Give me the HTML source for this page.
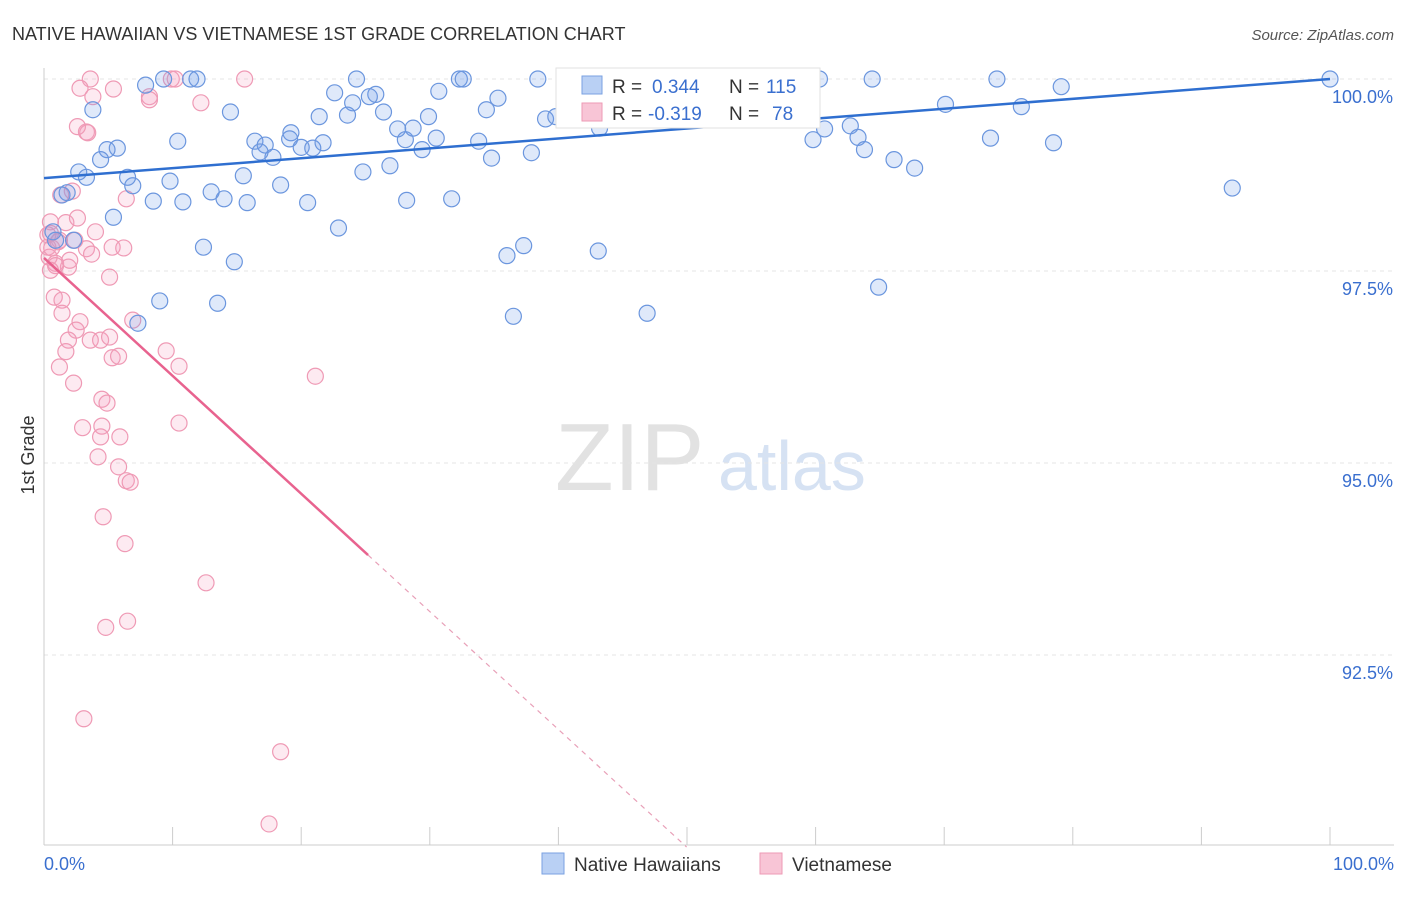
<!DOCTYPE html>
<html><head><meta charset="utf-8"><style>
body{margin:0;background:#fff;}
svg text{font-family:"Liberation Sans",sans-serif;}
</style></head><body>
<svg id="chart" width="1406" height="892" xmlns="http://www.w3.org/2000/svg">
<text x="12" y="40" font-size="18" fill="#333">NATIVE HAWAIIAN VS VIETNAMESE 1ST GRADE CORRELATION CHART</text>
<text x="1394" y="40" font-size="15" fill="#555" font-style="italic" text-anchor="end">Source: ZipAtlas.com</text>
<text x="34" y="455" font-size="18" fill="#333" text-anchor="middle" transform="rotate(-90 34 455)">1st Grade</text>
<g><text x="555" y="490" font-size="96" fill="#e2e2e2" font-family="Liberation Serif,serif">ZIP</text><text x="718" y="490" font-size="70" fill="#d6e2f3">atlas</text></g>
<g id="grid"></g><g id="marks"></g>
<g>
<rect x="556" y="68" width="264" height="60" fill="#fff" stroke="#e2e2e2"/>
<rect x="582" y="76" width="20" height="18" fill="#b9d0f4" stroke="#7aa1e2"/>
<text x="612" y="93" font-size="19" fill="#333">R =</text>
<text x="652" y="93" font-size="19" fill="#3a6fcf">0.344</text>
<text x="729" y="93" font-size="19" fill="#333">N =</text>
<text x="766" y="93" font-size="19" fill="#3a6fcf">115</text>
<rect x="582" y="103" width="20" height="18" fill="#f8c5d6" stroke="#ee9ab5"/>
<text x="612" y="120" font-size="19" fill="#333">R =</text>
<text x="648" y="120" font-size="19" fill="#3a6fcf">-0.319</text>
<text x="729" y="120" font-size="19" fill="#333">N =</text>
<text x="772" y="120" font-size="19" fill="#3a6fcf">78</text>
</g>
<g>
<rect x="542" y="853" width="22" height="21" fill="#b9d0f4" stroke="#7aa1e2"/>
<text x="574" y="871" font-size="19" fill="#333">Native Hawaiians</text>
<rect x="760" y="853" width="22" height="21" fill="#f8c5d6" stroke="#ee9ab5"/>
<text x="792" y="871" font-size="19" fill="#333">Vietnamese</text>
</g>
</svg>
<script>
const yTicks=[100,97.5,95,92.5];
const yTickLabels=["100.0%","97.5%","95.0%","92.5%"];
const blueX=[7.9,9.3,11.4,11.9,14.5,10.4,16.4,17.2,17.8,16.8,19.2,19.1,20.0,20.9,21.7,21.4,22.6,24.0,23.6,24.3,25.8,25.3,26.4,27.5,28.1,28.7,29.9,29.4,30.5,30.7,32.3,32.6,34.4,35.3,33.8,34.8,37.9,38.4,39.0,39.8,41.5,43.2,43.5,45.6,47.5,49.7,51.0,54.3,55.4,58.8,59.4,60.3,60.7,59.8,62.7,63.3,63.8,64.4,66.1,67.7,70.1,74.1,73.6,76.0,78.5,79.1,92.4,100,64.9,46.9,43.1,37.3,36.0,36.5,31.7,28.2,24.8,26.9,22.9,20.5,18.4,15.5,15.8,14.0,13.0,10.8,9.8,8.5,6.9,6.5,5.7,4.9,4.4,3.8,3.3,2.7,1.4,1.8,0.7,0.9,2.3,5.4,12.4,14.8,9.0,13.5,7.3];
const blueY=[99.92,100,100,100,99.57,99.19,99.19,99.14,98.98,99.05,99.30,99.22,99.11,99.10,99.17,99.51,99.82,99.69,99.53,100,99.80,99.77,99.57,99.35,99.21,99.36,99.51,99.08,99.23,99.84,100,100,99.60,99.75,99.19,98.97,99.04,100,99.48,99.51,100,99.36,100,100,100,100,100,100,100,100,100,100,99.35,99.21,99.39,99.24,99.08,100,98.95,98.84,99.67,100,99.23,99.64,99.17,99.90,98.58,100,97.29,96.95,97.76,97.83,97.70,96.91,98.44,98.42,98.79,98.87,98.06,98.39,98.62,98.74,98.39,98.44,98.53,98.40,98.67,98.41,98.61,98.72,99.10,99.08,98.95,99.60,98.72,98.79,98.49,98.52,98.01,97.90,97.90,98.20,97.81,97.62,97.11,97.08,96.82];
const pinkX=[3.6,2.8,5.4,3.8,8.2,8.2,9.9,10.2,15.6,12.2,3.3,3.4,2.6,2.2,1.3,6.4,0.5,1.7,2.6,0.5,4.0,1.2,2.4,0.3,0.4,0.9,1.9,3.3,3.7,5.3,6.2,0.9,5.1,0.8,1.4,1.4,2.8,2.5,6.9,3.6,1.9,4.4,5.1,1.7,5.3,5.8,9.5,10.5,1.2,2.3,4.5,4.9,21.1,3.0,4.5,4.4,5.9,10.5,4.2,5.8,6.4,6.7,4.6,6.3,12.6,4.8,6.5,3.1,18.4,17.5,0.5,0.3,0.6,1.1,2.0];
const pinkY=[100,99.88,99.87,99.77,99.77,99.73,100,100,100,99.69,99.31,99.30,99.38,98.54,98.49,98.44,98.14,98.13,98.19,97.99,98.01,97.90,97.90,97.81,97.68,97.60,97.55,97.79,97.72,97.81,97.80,97.57,97.42,97.16,97.12,96.95,96.84,96.73,96.86,96.60,96.60,96.60,96.64,96.45,96.37,96.39,96.46,96.26,96.25,96.04,95.83,95.78,96.13,95.46,95.48,95.34,95.34,95.52,95.08,94.95,94.77,94.75,94.30,93.95,93.44,92.86,92.94,91.67,91.24,90.30,97.51,97.97,97.80,97.88,97.64];
const blueTrend=[98.71,100];
const pinkTrend=[97.67,-0.1535];
const NS="http://www.w3.org/2000/svg";
const X=v=>44+v*12.86, Y=v=>79+(100-v)*76.8;
const grid=document.getElementById('grid'), marks=document.getElementById('marks');
function mk(tag,attrs,parent){const e=document.createElementNS(NS,tag);for(const k in attrs)e.setAttribute(k,attrs[k]);parent.appendChild(e);return e;}
yTicks.forEach((t,i)=>{
 const l=mk('line',{x1:44,x2:1394,y1:Y(t),y2:Y(t),stroke:'#e4e4e4','stroke-dasharray':'4,4'},grid);
 
 
 const tx=mk('text',{x:1393,y:Y(t)+24,'font-size':18,fill:'#3a6fcf','text-anchor':'end'},grid);
 tx.textContent=yTickLabels[i];
 
 
});
mk('line',{x1:44,x2:44,y1:68,y2:845,stroke:'#ccc'},grid);
mk('line',{x1:44,x2:1394,y1:845,y2:845,stroke:'#ccc'},grid);
for(let i=0;i<=10;i++){const t=mk('line',{x1:X(i*10),x2:X(i*10),y1:827,y2:845,stroke:'#ccc'},grid);
 
 }
const x0=mk('text',{x:44,y:870,'font-size':18,fill:'#3a6fcf'},grid);x0.textContent='0.0%';


const x1=mk('text',{x:1394,y:870,'font-size':18,fill:'#3a6fcf','text-anchor':'end'},grid);x1.textContent='100.0%';


pinkX.forEach((v,i)=>{const c=mk('circle',{cx:X(v),cy:Y(pinkY[i]),r:8,fill:'rgba(244,160,190,0.22)',stroke:'#ef9ab5','stroke-width':1.2},marks);
 
 });
blueX.forEach((v,i)=>{const c=mk('circle',{cx:X(v),cy:Y(blueY[i]),r:8,fill:'rgba(110,155,230,0.22)',stroke:'#6b96de','stroke-width':1.2},marks);
 
 });
const bl=mk('line',{x1:X(0),y1:Y(blueTrend[0]),x2:X(100),y2:Y(blueTrend[1]),stroke:'#2f6fd0','stroke-width':2.5},marks);


const pEnd=(90-pinkTrend[0])/pinkTrend[1];
const ps=mk('line',{x1:X(0),y1:Y(pinkTrend[0]),x2:X(25.2),y2:Y(pinkTrend[0]+pinkTrend[1]*25.2),stroke:'#e8638f','stroke-width':2.5},marks);


const pd=mk('line',{x1:X(25.2),y1:Y(pinkTrend[0]+pinkTrend[1]*25.2),x2:X(pEnd),y2:Y(90),stroke:'#e8a0b8','stroke-width':1.2,'stroke-dasharray':'5,5'},marks);


</script>
</body></html>
